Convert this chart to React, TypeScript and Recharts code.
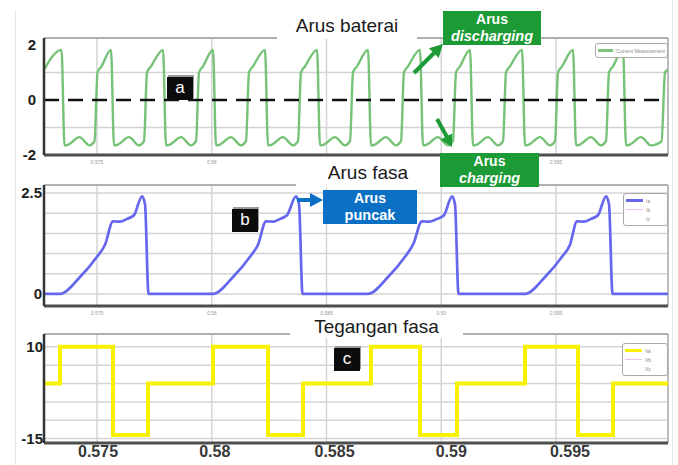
import React from 'react';
import { LineChart, Line, XAxis, YAxis, CartesianGrid, ReferenceLine } from 'recharts';

// time in milliseconds, shown on the axis in seconds
const timeTicks = [575, 580, 585, 590, 595];
const T_START = 572.69;
const T_END = 599.88;

// battery current (A)
const batteryTime = [
  572.69,
  573.453, 573.584, 573.758, 574.237, 574.673, 574.891, 575.022, 575.196,
  575.61, 575.741, 575.915, 576.394, 576.83, 577.048, 577.179, 577.353,
  577.876, 578.007, 578.181, 578.66, 579.096, 579.314, 579.445, 579.619,
  580.054, 580.185, 580.359, 580.838, 581.274, 581.492, 581.623, 581.797,
  582.32, 582.451, 582.625, 583.104, 583.54, 583.758, 583.889, 584.063,
  584.586, 584.717, 584.891, 585.37, 585.806, 586.024, 586.155, 586.329,
  586.808, 586.939, 587.113, 587.592, 588.028, 588.246, 588.377, 588.551,
  589.074, 589.205, 589.379, 589.858, 590.294, 590.512, 590.643, 590.817,
  591.253, 591.384, 591.558, 592.037, 592.473, 592.691, 592.822, 592.996,
  593.519, 593.65, 593.824, 594.303, 594.739, 594.957, 595.088, 595.262,
  595.741, 595.872, 596.046, 596.525, 596.961, 597.179, 597.31, 597.484,
  597.92, 598.051, 598.225, 598.704, 599.14, 599.6, 599.75, 599.88,
];
const batteryCurrent = [
  1.1,
  1.82, -1.65, -1.62, -1.35, -1.65, -1.5, 1.0, 1.22,
  1.82, -1.65, -1.62, -1.35, -1.65, -1.5, 1.0, 1.22,
  1.82, -1.65, -1.62, -1.35, -1.65, -1.5, 1.0, 1.22,
  1.82, -1.65, -1.62, -1.35, -1.65, -1.5, 1.0, 1.22,
  1.82, -1.65, -1.62, -1.35, -1.65, -1.5, 1.0, 1.22,
  1.82, -1.65, -1.62, -1.35, -1.65, -1.5, 1.0, 1.22,
  1.82, -1.65, -1.62, -1.35, -1.65, -1.5, 1.0, 1.22,
  1.82, -1.65, -1.62, -1.35, -1.65, -1.5, 1.0, 1.22,
  1.82, -1.65, -1.62, -1.35, -1.65, -1.5, 1.0, 1.22,
  1.82, -1.65, -1.62, -1.35, -1.65, -1.5, 1.0, 1.22,
  1.82, -1.65, -1.62, -1.35, -1.65, -1.5, 1.0, 1.22,
  1.82, -1.65, -1.62, -1.35, -1.65, -1.5, 1.0, 1.1,
];

// phase current (A)
const phaseTime = [
  572.69, 573.388, 574.259, 575.0, 575.349, 575.697, 576.002, 576.307, 576.612, 576.961, 577.092, 577.244,
  580.054, 580.926, 581.667, 582.015, 582.364, 582.669, 582.974, 583.279, 583.671, 583.802, 583.955,
  586.808, 587.68, 588.421, 588.769, 589.161, 589.466, 589.815, 590.12, 590.469, 590.599, 590.752,
  593.649, 594.521, 595.262, 595.61, 595.915, 596.22, 596.525, 596.83, 597.179, 597.31, 597.462,
  599.88,
];
const phaseCurrent = [
  0, 0, 0.42, 0.92, 1.22, 1.8, 1.79, 1.86, 1.95, 2.42, 2.22, 0,
  0, 0.42, 0.92, 1.22, 1.8, 1.79, 1.86, 1.95, 2.42, 2.22, 0,
  0, 0.42, 0.92, 1.22, 1.8, 1.79, 1.86, 1.95, 2.42, 2.22, 0,
  0, 0.42, 0.92, 1.22, 1.8, 1.79, 1.86, 1.95, 2.42, 2.22, 0,
  0,
];

// phase voltage (V), held until the next switching instant
const voltageTime = [
  572.69, 573.388, 575.697, 577.222, 580.054, 582.451, 583.976,
  586.939, 589.074, 590.686, 593.649, 595.959, 597.484, 599.88,
];
const phaseVoltage = [0, 10, -14, 0, 10, -14, 0, 10, -14, 0, 10, -14, 0, 0];

const batteryData = batteryTime.map((t, i) => ({ t, i: batteryCurrent[i] }));
const phaseData = phaseTime.map((t, i) => ({ t, i: phaseCurrent[i] }));
const voltageData = voltageTime.map((t, i) => ({ t, v: phaseVoltage[i] }));

const FONT = '"Liberation Sans", Arial, Helvetica, sans-serif';
const GRID = '#d4d4d4';
const FRAME = '#b0b0b0';
const GREEN_TAG = '#1c9a36';
const BLUE_TAG = '#0b6fc4';

const xTickFormat = (v: number) => String(v / 1000);
// the 0.585 label under the top plot sits behind the "Arus fasa" title
const topTickFormat = (v: number) => (v === 585 ? '' : xTickFormat(v));
// bottom labels drift slightly to the right
const bottomTickShift = [1, 3, 8, 10, 14];

function BottomTick(props: any) {
  const { x, y, payload, index } = props;
  return (
    <text
      x={x + (bottomTickShift[index] ?? 0)}
      y={y}
      dy="0.71em"
      textAnchor="middle"
      fontSize={16}
      fontWeight={700}
      fill="#383838"
    >
      {xTickFormat(payload.value)}
    </text>
  );
}

const abs = (left: number, top: number): React.CSSProperties => ({ position: 'absolute', left, top });

function Title({ text, left, top, width, height }: { text: string; left: number; top: number; width: number; height: number }) {
  return (
    <div
      style={{
        ...abs(left, top),
        width,
        height,
        lineHeight: `${height}px`,
        background: '#fff',
        textAlign: 'center',
        fontSize: 19,
        color: '#1a1a1a',
      }}
    >
      {text}
    </div>
  );
}

function Tag({ label, left, top }: { label: string; left: number; top: number }) {
  return (
    <div
      style={{
        ...abs(left, top),
        width: 26,
        height: 23,
        lineHeight: '22px',
        background: '#0c0c0c',
        color: '#fff',
        textAlign: 'center',
        fontSize: 17,
        boxShadow: '1px -2px 0 #9a9a9a',
      }}
    >
      {label}
    </div>
  );
}

function Callout({ left, top, width, color, first, second, italic }: { left: number; top: number; width: number; color: string; first: string; second: string; italic: boolean }) {
  return (
    <div
      style={{
        ...abs(left, top),
        width,
        background: color,
        color: '#fff',
        textAlign: 'center',
        fontWeight: 700,
      }}
    >
      <div style={{ fontSize: 14, lineHeight: '16px' }}>{first}</div>
      <div style={{ fontSize: 14.5, lineHeight: '18px', fontStyle: italic ? 'italic' : 'normal' }}>{second}</div>
    </div>
  );
}

function LegendBox({ left, top, width, rows }: { left: number; top: number; width: number; rows: { color: string | null; text: string; thick: boolean }[] }) {
  return (
    <div
      style={{
        ...abs(left, top),
        width,
        border: '1px solid #a8a8a8',
        borderRadius: 3,
        background: '#fff',
        padding: '2px 2px',
        boxSizing: 'border-box',
      }}
    >
      {rows.map((r, k) => (
        <div key={k} style={{ display: 'flex', alignItems: 'center', height: 9 }}>
          <div style={{ width: 17, height: r.thick ? 3 : 1, background: r.color ?? 'transparent', marginRight: 3 }} />
          <div style={{ fontSize: 5, color: '#8a8a8a', whiteSpace: 'nowrap' }}>{r.text}</div>
        </div>
      ))}
    </div>
  );
}

export default function App() {
  return (
    <div style={{ ...abs(0, 0), width: 678, height: 465, background: '#fff', fontFamily: FONT, overflow: 'hidden' }}>
      {/* page edges */}
      <div style={{ ...abs(15, 10), width: 1, height: 455, background: '#e6e6e6' }} />
      <div style={{ ...abs(672, 0), width: 1, height: 465, background: '#e6e6e6' }} />

      {/* battery current */}
      <div style={abs(0, 0)}>
        <LineChart width={678} height={170} data={batteryData} margin={{ top: 38, right: 10, bottom: 2, left: 14 }}>
          <CartesianGrid horizontal={false} stroke={GRID} strokeWidth={1.5} />
          <XAxis
            type="number"
            dataKey="t"
            domain={[T_START, T_END]}
            ticks={timeTicks}
            tickFormatter={topTickFormat}
            allowDataOverflow
            height={13}
            tickLine={false}
            tickSize={0}
            tickMargin={5}
            axisLine={{ stroke: '#4d4d4d', strokeWidth: 3 }}
            tick={{ fontSize: 5, fill: '#9a9a9a' }}
          />
          <YAxis
            type="number"
            domain={[-2, 2.25]}
            ticks={[-2, 0, 2]}
            allowDataOverflow
            width={30}
            tickLine={false}
            tickSize={0}
            tickMargin={8}
            axisLine={{ stroke: '#333', strokeWidth: 2.5 }}
            tick={{ fontSize: 15, fontWeight: 700, fill: '#1e1e1e' }}
          />
          <ReferenceLine y={1} stroke={GRID} strokeWidth={1.5} />
          <ReferenceLine y={-1} stroke={GRID} strokeWidth={1.5} />
          <ReferenceLine y={2.25} stroke={FRAME} strokeWidth={2} />
          <ReferenceLine x={T_END} stroke={FRAME} strokeWidth={1.5} />
          <Line type="monotone" dataKey="i" stroke="#76c276" strokeWidth={2.4} dot={false} isAnimationActive={false} />
          <ReferenceLine y={0} stroke="#111" strokeWidth={2.5} strokeDasharray="15 9" />
        </LineChart>
      </div>

      {/* phase current */}
      <div style={abs(0, 150)}>
        <LineChart width={678} height={170} data={phaseData} margin={{ top: 35, right: 10, bottom: 2, left: 14 }}>
          <CartesianGrid horizontal={false} stroke={GRID} strokeWidth={1.5} />
          <XAxis
            type="number"
            dataKey="t"
            domain={[T_START, T_END]}
            ticks={timeTicks}
            tickFormatter={xTickFormat}
            allowDataOverflow
            height={12}
            tickLine={false}
            tickSize={0}
            tickMargin={5}
            axisLine={{ stroke: '#4d4d4d', strokeWidth: 3 }}
            tick={{ fontSize: 5, fill: '#9a9a9a' }}
          />
          <YAxis
            type="number"
            domain={[-0.3, 2.7]}
            ticks={[0, 2.5]}
            allowDataOverflow
            width={30}
            tickLine={false}
            tickSize={0}
            tickMargin={2}
            axisLine={{ stroke: '#333', strokeWidth: 2.5 }}
            tick={{ fontSize: 15, fontWeight: 700, fill: '#1e1e1e' }}
          />
          {[0, 0.5, 1, 1.5, 2, 2.5].map((v) => (
            <ReferenceLine key={v} y={v} stroke={GRID} strokeWidth={1.5} />
          ))}
          <ReferenceLine y={2.7} stroke={FRAME} strokeWidth={2} />
          <ReferenceLine x={T_END} stroke={FRAME} strokeWidth={1.5} />
          <Line type="monotone" dataKey="i" stroke="#6767ee" strokeWidth={2.7} dot={false} isAnimationActive={false} />
        </LineChart>
      </div>

      {/* phase voltage */}
      <div style={abs(0, 300)}>
        <LineChart width={678} height={165} data={voltageData} margin={{ top: 34, right: 10, bottom: 0, left: 14 }}>
          <CartesianGrid horizontal={false} stroke={GRID} strokeWidth={1.5} />
          <XAxis
            type="number"
            dataKey="t"
            domain={[T_START, T_END]}
            ticks={timeTicks}
            allowDataOverflow
            height={22}
            tickLine={false}
            tickSize={0}
            tickMargin={3}
            axisLine={{ stroke: '#4d4d4d', strokeWidth: 3 }}
            tick={<BottomTick />}
          />
          <YAxis
            type="number"
            domain={[-16.2, 13.5]}
            ticks={[-15, 10]}
            allowDataOverflow
            width={30}
            tickLine={false}
            tickSize={0}
            tickMargin={1}
            axisLine={{ stroke: '#333', strokeWidth: 2.5 }}
            tick={{ fontSize: 15, fontWeight: 700, fill: '#1e1e1e' }}
          />
          {[-15, -10, -5, 0, 5, 10].map((v) => (
            <ReferenceLine key={v} y={v} stroke={GRID} strokeWidth={1.5} />
          ))}
          <ReferenceLine y={13.5} stroke={FRAME} strokeWidth={2} />
          <ReferenceLine x={T_END} stroke={FRAME} strokeWidth={1.5} />
          <Line type="stepAfter" dataKey="v" stroke="#f8f200" strokeWidth={4} dot={false} isAnimationActive={false} />
        </LineChart>
      </div>

      {/* panel titles, sitting on the top frame line */}
      <Title text="Arus baterai" left={277} top={13} width={140} height={26} />
      <Title text="Arus fasa" left={296} top={158} width={144} height={30} />
      <Title text="Tegangan fasa" left={290} top={316} width={173} height={22} />

      {/* legends */}
      <LegendBox left={595} top={43} width={73} rows={[{ color: '#7cc47c', text: 'Current Measurement', thick: true }]} />
      <LegendBox
        left={623}
        top={193}
        width={45}
        rows={[
          { color: '#6767ee', text: 'Ia', thick: true },
          { color: '#efbfef', text: 'Ib', thick: false },
          { color: null, text: 'Ic', thick: false },
        ]}
      />
      <LegendBox
        left={622}
        top={343}
        width={46}
        rows={[
          { color: '#f8f200', text: 'Va', thick: true },
          { color: '#efbfef', text: 'Vb', thick: false },
          { color: null, text: 'Vc', thick: false },
        ]}
      />

      {/* markers a, b, c */}
      <Tag label="a" left={167} top={77} />
      <Tag label="b" left={232} top={209} />
      <Tag label="c" left={334} top={348} />

      {/* callouts */}
      <Callout left={443} top={11} width={98} color={GREEN_TAG} first="Arus" second="discharging" italic />
      <Callout left={440} top={153} width={99} color={GREEN_TAG} first="Arus" second="charging" italic />
      <Callout left={323} top={190} width={94} color={BLUE_TAG} first="Arus" second="puncak" italic={false} />

      <svg width={678} height={465} style={{ ...abs(0, 0), pointerEvents: 'none' }}>
        <line x1={414} y1={73} x2={434} y2={53} stroke={GREEN_TAG} strokeWidth={4} />
        <polygon points="443,44 438.7,58.1 428.9,48.3" fill={GREEN_TAG} />
        <line x1={437} y1={119} x2={447} y2={137} stroke={GREEN_TAG} strokeWidth={4} />
        <polygon points="452,147 452.1,133.4 440.6,139.5" fill={GREEN_TAG} />
        <line x1={297} y1={200} x2={311} y2={200} stroke={BLUE_TAG} strokeWidth={4} />
        <polygon points="323,200 310,193 310,207" fill={BLUE_TAG} />
      </svg>
    </div>
  );
}
